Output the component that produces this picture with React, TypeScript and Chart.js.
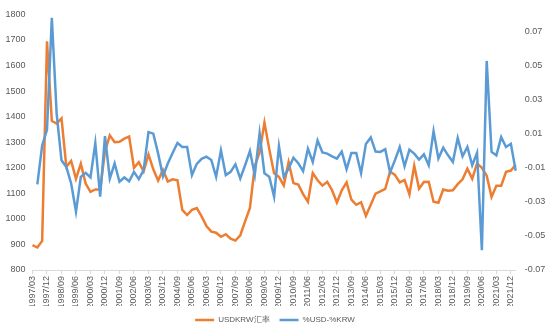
import React, { useEffect, useRef } from 'react';
import { Chart, registerables } from 'chart.js';
Chart.register(...registerables);

const categories = [
  '1997/03','1997/06','1997/09','1997/12','1998/03','1998/06','1998/09','1998/12',
  '1999/03','1999/06','1999/09','1999/12','2000/03','2000/06','2000/09','2000/12',
  '2001/03','2001/06','2001/09','2001/12','2002/03','2002/06','2002/09','2002/12',
  '2003/03','2003/06','2003/09','2003/12','2004/03','2004/06','2004/09','2004/12',
  '2005/03','2005/06','2005/09','2005/12','2006/03','2006/06','2006/09','2006/12',
  '2007/03','2007/06','2007/09','2007/12','2008/03','2008/06','2008/09','2008/12',
  '2009/03','2009/06','2009/09','2009/12','2010/03','2010/06','2010/09','2010/12',
  '2011/03','2011/06','2011/09','2011/12','2012/03','2012/06','2012/09','2012/12',
  '2013/03','2013/06','2013/09','2013/12','2014/03','2014/06','2014/09','2014/12',
  '2015/03','2015/06','2015/09','2015/12','2016/03','2016/06','2016/09','2016/12',
  '2017/03','2017/06','2017/09','2017/12','2018/03','2018/06','2018/09','2018/12',
  '2019/03','2019/06','2019/09','2019/12','2020/03','2020/06','2020/09','2020/12',
  '2021/03','2021/06','2021/09','2021/12','2022/03'
];

const usdkrw = [
  897, 888, 914, 1695, 1383, 1373, 1393, 1204,
  1227, 1157, 1216, 1138, 1106, 1115, 1115, 1264,
  1327, 1300, 1302, 1314, 1322, 1200, 1222, 1186,
  1252, 1194, 1150, 1192, 1146, 1155, 1151, 1035,
  1015, 1035, 1042, 1010, 972, 950, 946, 930,
  940, 923, 915, 936, 990, 1043, 1207, 1260,
  1377, 1273, 1178, 1164, 1131, 1222, 1140, 1134,
  1097, 1067, 1179, 1151, 1130, 1145, 1112, 1064,
  1112, 1143, 1075, 1055, 1065, 1012, 1055, 1099,
  1108, 1117, 1185, 1172, 1143, 1152, 1096, 1208,
  1118, 1144, 1145, 1067, 1063, 1115, 1110, 1112,
  1136, 1155, 1196, 1157, 1217, 1200, 1169, 1086,
  1130, 1130, 1184, 1189, 1212
];

const spread = [
  null, -0.0198, 0.0031, 0.0123, 0.078, 0.0216, -0.0056, -0.0095,
  -0.0192, -0.0357, -0.0153, -0.013, -0.0157, 0.0045, -0.027, 0.0086,
  -0.0163, -0.0075, -0.0182, -0.0157, -0.0179, -0.0124, -0.0167, -0.0114,
  0.0109, 0.01, -0.0017, -0.015, -0.0075, -0.0013, 0.0045, 0.0022,
  0.0022, -0.0143, -0.0077, -0.0048, -0.0035, -0.0054, -0.0153, 0.0002,
  -0.0143, -0.0124, -0.008, -0.0163, -0.0085, -0.0002, -0.0143, 0.0103,
  -0.0133, -0.0153, -0.027, 0.0026, -0.0153, -0.0105, -0.0041, -0.0073,
  -0.012, 0.0012, -0.0066, 0.006, -0.001, -0.0017, -0.0033, -0.0046,
  -0.0005, -0.0108, -0.0013, -0.0013, -0.0132, 0.004, 0.0078, -0.0005,
  -0.0007, 0.0009, -0.0127, -0.0056, 0.0022, -0.0091, 0.0006, -0.0017,
  -0.0052, -0.0021, -0.0085, 0.0115, -0.0046, 0.0018, -0.0027, -0.0066,
  0.0074, -0.0033, 0.0022, -0.0085, -0.0013, -0.0584, 0.0527, -0.0007,
  -0.0027, 0.008, 0.0022, 0.0041, -0.0118
];

const rightTicks = [-0.07, -0.05, -0.03, -0.01, 0.01, 0.03, 0.05, 0.07];

const FONT = { family: '"Liberation Sans", Arial, sans-serif', size: 9 };
const TXT = '#595959';

export default function App() {
  const ref = useRef<HTMLCanvasElement>(null);
  useEffect(() => {
    document.body.style.margin = '0';
    const chart = new Chart(ref.current as HTMLCanvasElement, {
      type: 'line',
      data: {
        labels: categories,
        datasets: [
          {
            label: 'USDKRW汇率',
            data: usdkrw,
            borderColor: '#ED7D31',
            backgroundColor: '#ED7D31',
            borderWidth: 2.5,
            pointRadius: 0,
            tension: 0,
            yAxisID: 'y',
            order: 1,
          },
          {
            label: '%USD-%KRW',
            data: spread as any,
            borderColor: '#5B9BD5',
            backgroundColor: '#5B9BD5',
            borderWidth: 2.5,
            pointRadius: 0,
            tension: 0,
            yAxisID: 'y1',
            order: 0,
          },
        ],
      },
      options: {
        responsive: false,
        animation: false,
        layout: { padding: { top: 10, left: 0, right: 0, bottom: 0 } },
        plugins: {
          legend: {
            position: 'bottom',
            labels: {
              usePointStyle: true,
              pointStyle: 'line',
              pointStyleWidth: 19,
              font: { ...FONT, size: 8 },
              color: TXT,
              padding: 10,
              sort: (a: any, b: any) => a.datasetIndex - b.datasetIndex,
            },
          },
          tooltip: { enabled: false },
        },
        scales: {
          x: {
            grid: { drawOnChartArea: false, drawTicks: true, tickLength: 4, color: '#D9D9D9' },
            border: { display: true, color: '#D9D9D9' },
            ticks: {
              autoSkip: false,
              maxRotation: 90,
              minRotation: 90,
              padding: 2,
              font: FONT,
              color: TXT,
              callback: (_v: any, i: number) => (i % 3 === 0 ? categories[i] : null),
            },
            afterFit: (s: any) => { s.height = 36; },
          },
          y: {
            position: 'left',
            min: 800,
            max: 1800,
            grid: { display: false, drawTicks: false },
            border: { display: false },
            ticks: {
              stepSize: 100,
              font: FONT,
              color: TXT,
              padding: 7,
              callback: (v: any) => String(v),
            },
            afterFit: (s: any) => { s.width = 32.5; },
          },
          y1: {
            position: 'right',
            min: -0.07,
            max: 0.08,
            grid: { display: false, drawTicks: false },
            border: { display: false },
            afterBuildTicks: (s: any) => { s.ticks = rightTicks.map((v) => ({ value: v })); },
            ticks: {
              font: FONT,
              color: TXT,
              padding: 9,
              callback: (v: any) => Number(v).toFixed(2),
            },
            afterFit: (s: any) => { s.width = 34.3; },
          },
        },
      } as any,
    });
    return () => chart.destroy();
  }, []);
  return (
    <div style={{ width: 550, height: 334 }}>
      <canvas ref={ref} width={550} height={334} style={{ display: 'block' }} />
    </div>
  );
}
